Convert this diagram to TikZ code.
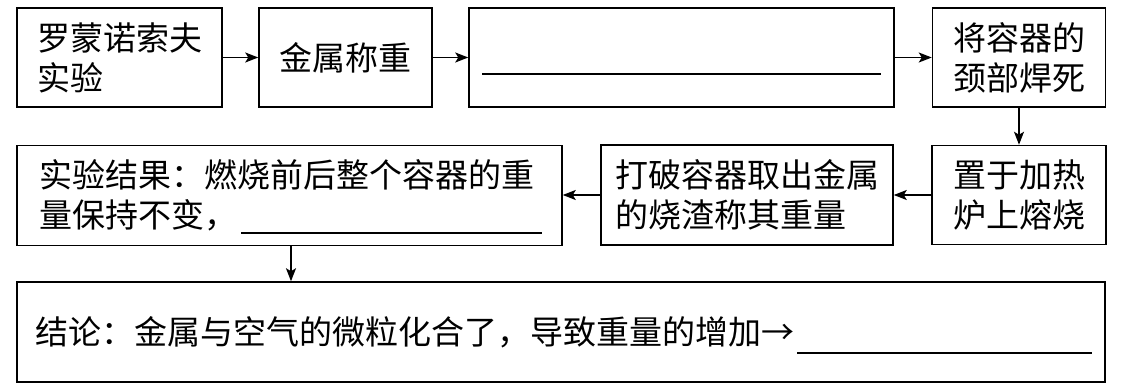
\documentclass[tikz,border=0pt]{standalone}
\usepackage{fontspec}
\newfontfamily\cjk{Noto Sans CJK SC}
\usetikzlibrary{arrows.meta}
\begin{document}
\begin{tikzpicture}[x=1pt,y=-1pt,
  box/.style={draw, line width=1.5pt, inner sep=0pt, align=left,
    font=\cjk\fontsize{33}{40}\selectfont},
  arr/.style={line width=1.5pt, -{Stealth[length=13pt,width=10pt,inset=3pt]}},
  blank/.style={line width=1.5pt},
]
\useasboundingbox (0,0) rectangle (1126,388);
% row 1
\node[box, minimum width=205pt, minimum height=99pt] (b1) at (119.5,57.5) {罗蒙诺索夫\\实验};
\node[box, minimum width=173pt, minimum height=99pt] (b2) at (345.5,57.5) {金属称重};
\node[box, minimum width=425pt, minimum height=99pt] (b3) at (681.5,57.5) {};
\node[box, minimum width=173pt, minimum height=99pt] (b4) at (1019,57.5) {将容器的\\颈部焊死};
% row 2
\node[box, minimum width=174pt, minimum height=99pt] (b5) at (1019,195) {置于加热\\炉上熔烧};
\node[box, minimum width=292pt, minimum height=100pt] (b7) at (747,195) {打破容器取出金属\\的烧渣称其重量};
\node[box, minimum width=545pt, minimum height=100pt] (b6) at (289.5,195.5) {实验结果：燃烧前后整个容器的重\\量保持不变，\hspace*{303pt}};
% row 3
\node[box, minimum width=1088pt, minimum height=100pt, text width=1052pt, inner xsep=18pt] (b8) at (561,332) {结论：金属与空气的微粒化合了，导致重量的增加→};
% blanks
\draw[blank] (482,74) -- (881,74);
\draw[blank] (241,233) -- (542,233);
\draw[blank] (797,353) -- (1092,353);
% connectors
\draw[arr] (b1) -- (b2);
\draw[arr] (b2) -- (b3);
\draw[arr] (b3) -- (b4);
\draw[arr] (b4) -- (b5);
\draw[arr] (b5) -- (b7);
\draw[arr] (b7.west) -- (b6.east |- b7.west);
\draw[arr] ([xshift=1.5pt]b6.south) -- ([xshift=1.5pt]b6.south |- b8.north);
\end{tikzpicture}
\end{document}
